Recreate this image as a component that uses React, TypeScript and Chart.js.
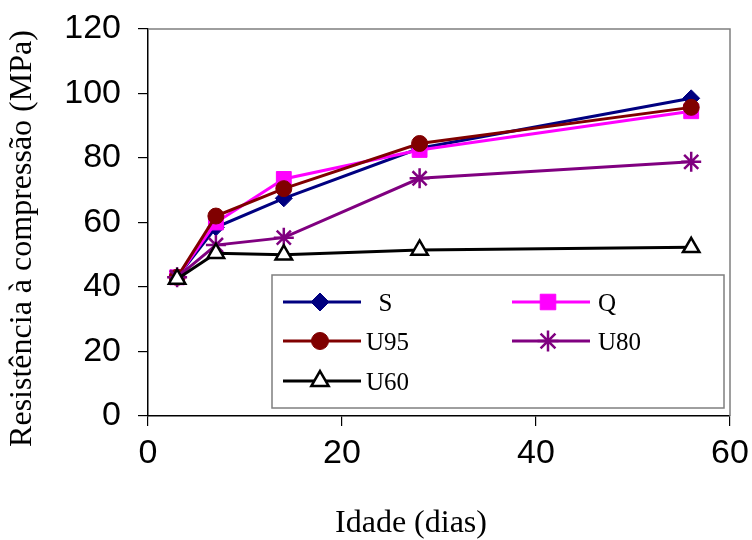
import React, { useEffect, useRef } from 'react';
import { Chart, registerables } from 'chart.js';
import { drawPoint } from 'chart.js/helpers';

Chart.register(...registerables);

// ---- data ----
const ages = [3, 7, 14, 28, 56];
const seriesS = [43, 58.5, 67.5, 83, 98.5];
const seriesQ = [43, 60, 73.5, 82.5, 94.5];
const seriesU95 = [43, 62, 70.5, 84.5, 95.7];
const seriesU80 = [43, 53, 55.3, 73.7, 78.8];
const seriesU60 = [42.5, 50.5, 50, 51.5, 52.3];
const seriesNames = ['S', 'Q', 'U95', 'U80', 'U60'];
const legendLabels = ['  S', 'Q', 'U95', 'U80', 'U60'];
const xTickStep = 20;
const yTickStep = 20;
const xRange = [0, 60];
const yRange = [0, 120];
const xTitle = 'Idade (dias)';
const yTitle = 'Resistência à compressão (MPa)';

const toXY = (vals: number[]) => vals.map((v, i) => ({ x: ages[i], y: v }));

const legendPlugin = {
  id: 'insideLegend',
  afterDatasetsDraw(chart: any) {
    const { ctx, chartArea: ca } = chart;
    ctx.save();
    // plot frame (top and right)
    ctx.strokeStyle = '#7f7f7f';
    ctx.lineWidth = 1.5;
    ctx.beginPath();
    ctx.moveTo(ca.left, ca.top);
    ctx.lineTo(ca.right, ca.top);
    ctx.lineTo(ca.right, ca.bottom);
    ctx.stroke();

    const bx = ca.left + 124;
    const by = ca.top + 246;
    const bw = 452;
    const bh = 133;
    ctx.fillStyle = '#ffffff';
    ctx.fillRect(bx, by, bw, bh);
    ctx.strokeStyle = '#7f7f7f';
    ctx.lineWidth = 1.5;
    ctx.strokeRect(bx, by, bw, bh);

    const cols = [{ l: 11, r: 89, m: 48, t: 94 }, { l: 240, r: 318, m: 276, t: 326 }];
    const rows = [27, 66, 106];
    const place = [[0, 0], [1, 0], [0, 1], [1, 1], [0, 2]];
    chart.data.datasets.forEach((ds: any, i: number) => {
      const c = cols[place[i][0]];
      const y = by + rows[place[i][1]];
      ctx.strokeStyle = ds.borderColor;
      ctx.lineWidth = ds.borderWidth;
      ctx.beginPath();
      ctx.moveTo(bx + c.l, y);
      ctx.lineTo(bx + c.r, y);
      ctx.stroke();
      ctx.fillStyle = ds.pointBackgroundColor;
      ctx.strokeStyle = ds.pointBorderColor;
      ctx.lineWidth = ds.pointBorderWidth;
      drawPoint(ctx, { pointStyle: ds.pointStyle, radius: ds.pointRadius + 0.5, rotation: 0, borderWidth: ds.pointBorderWidth }, bx + c.m, y);
      ctx.fillStyle = '#000';
      ctx.font = '25px "Liberation Serif", "Times New Roman", serif';
      ctx.textBaseline = 'middle';
      ctx.textAlign = 'left';
      ctx.fillText(legendLabels[i], bx + c.t, y + 2);
    });
    ctx.restore();
  },
};

export default function App() {
  const ref = useRef<HTMLCanvasElement>(null);
  useEffect(() => {
    if (!ref.current) return;
    const mk = (label: string, vals: number[], color: string, style: string, radius: number, bg: string, bw: number, order: number) => ({
      label,
      data: toXY(vals),
      borderColor: color,
      backgroundColor: bg,
      borderWidth: 3,
      pointStyle: style,
      pointRadius: radius,
      pointBackgroundColor: bg,
      pointBorderColor: color,
      pointBorderWidth: bw,
      tension: 0,
      order,
    });
    const chart = new Chart(ref.current, {
      type: 'line',
      data: {
        datasets: [
          mk(seriesNames[0], seriesS, '#000080', 'rectRot', 8.5, '#000080', 1, 5),
          mk(seriesNames[1], seriesQ, '#ff00ff', 'rect', 10.5, '#ff00ff', 1, 4),
          mk(seriesNames[2], seriesU95, '#800000', 'circle', 8, '#800000', 1, 3),
          mk(seriesNames[3], seriesU80, '#800080', 'star', 10, '#800080', 2.5, 2),
          mk(seriesNames[4], seriesU60, '#000000', 'triangle', 9.5, '#ffffff', 2.5, 1),
        ] as any,
      },
      options: {
        animation: false,
        responsive: false,
        events: [],
        layout: { padding: { left: 0, top: 29, right: 22, bottom: 0 } },
        plugins: { legend: { display: false }, tooltip: { enabled: false } },
        scales: {
          x: {
            type: 'linear',
            min: xRange[0],
            max: xRange[1],
            ticks: { stepSize: xTickStep, color: '#000', padding: 7, font: { family: '"Liberation Sans", Arial, sans-serif', size: 34 } },
            grid: { drawOnChartArea: false, drawTicks: true, tickLength: 10, color: '#000', lineWidth: 1.2 },
            border: { display: true, color: '#000', width: 1.5 },
            title: {
              display: true,
              text: xTitle + '       ',
              color: '#000',
              font: { family: '"Liberation Serif", "Times New Roman", serif', size: 32, lineHeight: 1 },
              padding: { top: 0, bottom: 0 },
            },
            afterFit: (s: any) => { s.height = 124; s.paddingLeft = 0; s.paddingRight = 0; },
          },
          y: {
            type: 'linear',
            min: yRange[0],
            max: yRange[1],
            ticks: { stepSize: yTickStep, color: '#000', padding: 17, font: { family: '"Liberation Sans", Arial, sans-serif', size: 34 } },
            grid: { drawOnChartArea: false, drawTicks: true, tickLength: 10, color: '#000', lineWidth: 1.2 },
            border: { display: true, color: '#000', width: 1.5 },
            title: {
              display: true,
              text: yTitle + '    ',
              color: '#000',
              font: { family: '"Liberation Serif", "Times New Roman", serif', size: 32, lineHeight: 1 },
              padding: { top: 7, bottom: 0 },
            },
            afterFit: (s: any) => { s.width = 148; s.paddingTop = 0; s.paddingBottom = 0; },
          },
        },
      } as any,
      plugins: [legendPlugin],
    });
    return () => chart.destroy();
  }, []);
  return (
    <div style={{ position: 'fixed', left: 0, top: 0, width: 752, height: 540, background: '#fff' }}>
      <canvas ref={ref} width={752} height={540} style={{ display: 'block' }} />
    </div>
  );
}
